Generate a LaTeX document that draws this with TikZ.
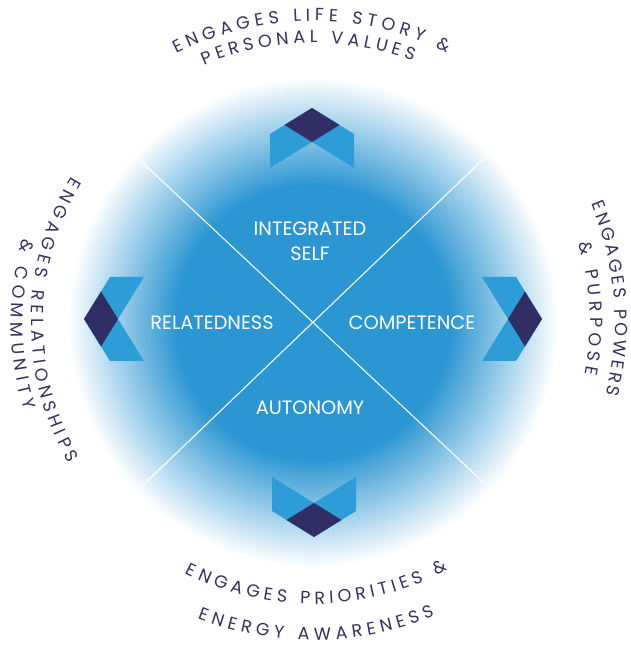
\documentclass[tikz,border=0pt]{standalone}
\usepackage{fontspec}
\setmainfont{Poppins}
\usetikzlibrary{decorations.text}

\definecolor{diskblue}{RGB}{44,150,210}
\definecolor{chevblue}{RGB}{46,156,214}
\definecolor{chevdark}{RGB}{49,46,102}
\definecolor{inktext}{RGB}{52,49,96}
\pgfdeclareradialshading{diskglow}{\pgfpoint{0bp}{0bp}}{color(0bp)=(diskblue); color(14bp)=(diskblue); color(25bp)=(white); color(50bp)=(white)}

\tikzset{
    quadlabel/.style={text=white, font=\fontsize{11}{14}\selectfont, align=center},
    arctext/.style={decorate, decoration={text along path, text align=fit to path,
        text color=inktext, text={|\fontsize{10}{12}\selectfont|#1}}},
    cross/.style={draw=white, line width=0.6pt}
}

\begin{document}
\begin{tikzpicture}[x=0.02cm, y=0.02cm]
    \useasboundingbox (0,0) rectangle (631,648);

    \coordinate (c) at (313,326);
    \shade[shading=diskglow] (c) circle[radius=245];

    \coordinate (tl) at (128,499);
    \coordinate (tr) at (497,502);
    \coordinate (bl) at (140,160);
    \coordinate (br) at (497,153);
    \draw[cross] (tl) -- (br);
    \draw[cross] (tr) -- (bl);

    \foreach \px/\py/\rot in {312/540/0, 84/329/90, 542/329/-90, 314/111/180}{
        \begin{scope}[shift={(\px,\py)}, rotate=\rot]
            \fill[chevblue] (0,0) -- (-42,-26) -- (-42,-60) -- (0,-34) -- (42,-60) -- (42,-26) -- cycle;
            \fill[chevdark] (0,0) -- (-27.5,-17) -- (0,-34) -- (27.5,-17) -- cycle;
        \end{scope}
    }

    \node [quadlabel] (self) at (310,407) {INTEGRATED\\SELF};
    \node [quadlabel] (rel) at (212,325) {RELATEDNESS};
    \node [quadlabel] (comp) at (412,325) {COMPETENCE};
    \node [quadlabel] (auto) at (310,240) {AUTONOMY};

    \path[arctext={ENGAGES LIFE STORY {\&}}] (c) ++(117:301) arc[start angle=117, end angle=63.5, radius=301];
    \path[arctext={PERSONAL VALUES}] (c) ++(113:279) arc[start angle=113, end angle=69, radius=279];
    \path[arctext={ENGAGES POWERS}] (c) ++(23:302) arc[start angle=23, end angle=-14, radius=302];
    \path[arctext={{\&} PURPOSE}] (c) ++(16.5:277) arc[start angle=16.5, end angle=-11, radius=277];
    \path[arctext={ENGAGES RELATIONSHIPS}] (c) ++(149:282) arc[start angle=149, end angle=210, radius=282];
    \path[arctext={{\&} COMMUNITY}] (c) ++(164:302) arc[start angle=164, end angle=197, radius=302];
    \path[arctext={ENGAGES PRIORITIES {\&}}] (c) ++(243:282) arc[start angle=243, end angle=298.5, radius=282];
    \path[arctext={ENERGY AWARENESS}] (c) ++(248.7:318) arc[start angle=248.7, end angle=292.5, radius=318];
\end{tikzpicture}
\end{document}
